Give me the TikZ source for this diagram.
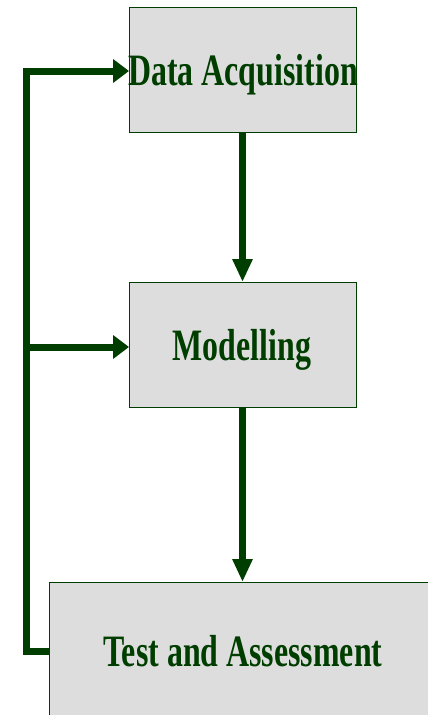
\documentclass[tikz,border=0pt]{standalone}
\usepackage{fontspec}
\usepackage{graphicx}
\setmainfont{Liberation Serif}
\usetikzlibrary{arrows.meta}
\definecolor{leaf}{RGB}{0,62,0}
\definecolor{panel}{RGB}{221,221,221}
\newcommand{\steplabel}[1]{\scalebox{0.725}[1.02]{\fontsize{44}{44}\selectfont\bfseries #1}}
\tikzset{
  stepbox/.style={draw=leaf, line width=0.9pt, fill=panel},
  steptext/.style={text=leaf, inner sep=0pt, anchor=base},
  flow/.style={draw=leaf, line width=7.5pt, -{Triangle[length=23pt,width=19pt]}},
  feed/.style={draw=leaf, line width=7pt, line join=miter, -{Triangle[length=16pt,width=23pt]}},
}
\begin{document}
\begin{tikzpicture}[x=1pt,y=-1pt]
  \useasboundingbox (0,0) rectangle (428,715);
  \clip (0,0) rectangle (428,715);

  % process boxes
  \draw[stepbox] (129,7) rectangle (356,132);
  \coordinate (acqN) at (242.5,7);
  \coordinate (acqS) at (242.5,132);
  \coordinate (acqW) at (129,71);
  \draw[stepbox] (129,282) rectangle (356,407);
  \coordinate (modN) at (242.5,282);
  \coordinate (modS) at (242.5,407);
  \coordinate (modW) at (129,347);
  \draw[stepbox] (49,582) rectangle (437,722);
  \coordinate (tstN) at (242.5,582);
  \coordinate (tstW) at (49,651);

  % labels
  \node[steptext] (acq) at (243,85) {\steplabel{Data Acquisition}};
  \node[steptext] (mod) at (242,360) {\steplabel{Modelling}};
  \node[steptext] (tst) at (243,666) {\steplabel{Test and Assessment}};

  % forward flow
  \draw[flow] (acqS) -- (modN);
  \draw[flow] (modS) -- (tstN);

  % feedback loop
  \coordinate (loopB) at (26,651);
  \coordinate (loopM) at (26,347);
  \coordinate (loopT) at (26,71);
  \draw[feed] (tstW) -- (loopB) -- (loopT) -- (acqW);
  \draw[feed] (loopM) -- (modW);
\end{tikzpicture}
\end{document}
